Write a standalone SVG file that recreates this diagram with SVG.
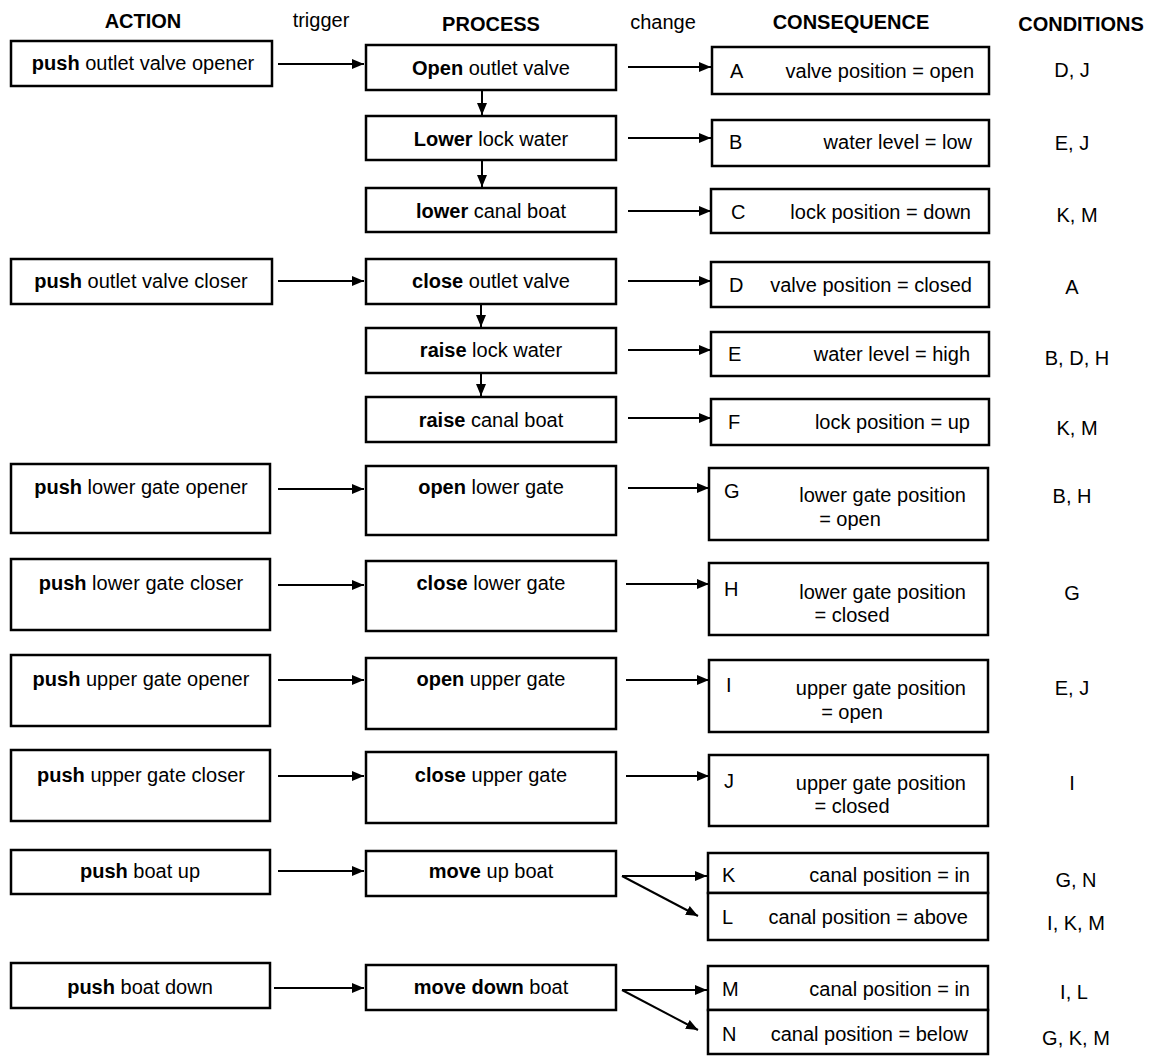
<svg xmlns="http://www.w3.org/2000/svg" width="1153" height="1056" viewBox="0 0 1153 1056">
<style>
.box{fill:#fff;stroke:#000;stroke-width:2.5}
text{font-family:"Liberation Sans",Arial,Helvetica,sans-serif;font-size:20px;fill:#000}
.b{font-weight:bold}
.c{text-anchor:middle}
.r{text-anchor:end}
.conn line{stroke:#000;stroke-width:2;marker-end:url(#ah)}
</style>
<defs>
<marker id="ah" markerUnits="userSpaceOnUse" markerWidth="12" markerHeight="10" refX="12" refY="5" orient="auto">
<path d="M0,0 L12,5 L0,10 z" fill="#000"/>
</marker>
</defs>
<rect width="1153" height="1056" fill="#fff"/>
<g id="headers">
<text x="143" y="28" class="b c">ACTION</text>
<text x="321" y="27" class="c">trigger</text>
<text x="491" y="31" class="b c">PROCESS</text>
<text x="663" y="29" class="c">change</text>
<text x="851" y="29" class="b c">CONSEQUENCE</text>
<text x="1081" y="31" class="b c">CONDITIONS</text>
</g>
<g id="connectors" class="conn">
<line x1="278" y1="64" x2="364" y2="64"/>
<line x1="628" y1="67" x2="711" y2="67"/>
<line x1="482" y1="91" x2="482" y2="115"/>
<line x1="628" y1="138" x2="711" y2="138"/>
<line x1="482" y1="161" x2="482" y2="187"/>
<line x1="628" y1="211" x2="711" y2="211"/>
<line x1="278" y1="281" x2="364" y2="281"/>
<line x1="628" y1="281" x2="711" y2="281"/>
<line x1="481" y1="305" x2="481" y2="327"/>
<line x1="628" y1="350" x2="711" y2="350"/>
<line x1="481" y1="374" x2="481" y2="396"/>
<line x1="628" y1="418" x2="711" y2="418"/>
<line x1="278" y1="489" x2="364" y2="489"/>
<line x1="628" y1="488" x2="709" y2="488"/>
<line x1="278" y1="585" x2="364" y2="585"/>
<line x1="626" y1="584" x2="709" y2="584"/>
<line x1="278" y1="680" x2="364" y2="680"/>
<line x1="626" y1="680" x2="709" y2="680"/>
<line x1="278" y1="776" x2="364" y2="776"/>
<line x1="626" y1="776" x2="709" y2="776"/>
<line x1="278" y1="871" x2="364" y2="871"/>
<line x1="622" y1="876" x2="707" y2="876"/>
<line x1="622" y1="876" x2="698" y2="916"/>
<line x1="274" y1="988" x2="364" y2="988"/>
<line x1="622" y1="990" x2="707" y2="990"/>
<line x1="622" y1="990" x2="698" y2="1030"/>
</g>
<g id="action-1"><rect class="box" x="11" y="41" width="261" height="45"/><text x="143" y="70" class="c"><tspan class="b">push</tspan> outlet valve opener</text></g>
<g id="action-2"><rect class="box" x="11" y="259" width="261" height="45"/><text x="141" y="288" class="c"><tspan class="b">push</tspan> outlet valve closer</text></g>
<g id="action-3"><rect class="box" x="11" y="464" width="259" height="69"/><text x="141" y="494" class="c"><tspan class="b">push</tspan> lower gate opener</text></g>
<g id="action-4"><rect class="box" x="11" y="559" width="259" height="71"/><text x="141" y="590" class="c"><tspan class="b">push</tspan> lower gate closer</text></g>
<g id="action-5"><rect class="box" x="11" y="655" width="259" height="71"/><text x="141" y="686" class="c"><tspan class="b">push</tspan> upper gate opener</text></g>
<g id="action-6"><rect class="box" x="11" y="750" width="259" height="71"/><text x="141" y="782" class="c"><tspan class="b">push</tspan> upper gate closer</text></g>
<g id="action-7"><rect class="box" x="11" y="850" width="259" height="44"/><text x="140" y="878" class="c"><tspan class="b">push</tspan> boat up</text></g>
<g id="action-8"><rect class="box" x="11" y="963" width="259" height="45"/><text x="140" y="994" class="c"><tspan class="b">push</tspan> boat down</text></g>
<g id="process-1"><rect class="box" x="366" y="45" width="250" height="45"/><text x="491" y="75" class="c"><tspan class="b">Open</tspan> outlet valve</text></g>
<g id="process-2"><rect class="box" x="366" y="116" width="250" height="44"/><text x="491" y="146" class="c"><tspan class="b">Lower</tspan> lock water</text></g>
<g id="process-3"><rect class="box" x="366" y="188" width="250" height="44"/><text x="491" y="218" class="c"><tspan class="b">lower</tspan> canal boat</text></g>
<g id="process-4"><rect class="box" x="366" y="259" width="250" height="45"/><text x="491" y="288" class="c"><tspan class="b">close</tspan> outlet valve</text></g>
<g id="process-5"><rect class="box" x="366" y="328" width="250" height="45"/><text x="491" y="357" class="c"><tspan class="b">raise</tspan> lock water</text></g>
<g id="process-6"><rect class="box" x="366" y="397" width="250" height="45"/><text x="491" y="427" class="c"><tspan class="b">raise</tspan> canal boat</text></g>
<g id="process-7"><rect class="box" x="366" y="466" width="250" height="69"/><text x="491" y="494" class="c"><tspan class="b">open</tspan> lower gate</text></g>
<g id="process-8"><rect class="box" x="366" y="561" width="250" height="70"/><text x="491" y="590" class="c"><tspan class="b">close</tspan> lower gate</text></g>
<g id="process-9"><rect class="box" x="366" y="658" width="250" height="71"/><text x="491" y="686" class="c"><tspan class="b">open</tspan> upper gate</text></g>
<g id="process-10"><rect class="box" x="366" y="752" width="250" height="71"/><text x="491" y="782" class="c"><tspan class="b">close</tspan> upper gate</text></g>
<g id="process-11"><rect class="box" x="366" y="851" width="250" height="45"/><text x="491" y="878" class="c"><tspan class="b">move</tspan> up boat</text></g>
<g id="process-12"><rect class="box" x="366" y="965" width="250" height="45"/><text x="491" y="994" class="c"><tspan class="b">move down</tspan> boat</text></g>
<g id="cons-A"><rect class="box" x="712" y="47" width="277" height="47"/><text x="730" y="78">A</text><text x="974" y="78" class="r">valve position = open</text></g>
<g id="cons-B"><rect class="box" x="712" y="120" width="277" height="46"/><text x="729" y="149">B</text><text x="972" y="149" class="r">water level = low</text></g>
<g id="cons-C"><rect class="box" x="711" y="189" width="278" height="44"/><text x="731" y="219">C</text><text x="971" y="219" class="r">lock position = down</text></g>
<g id="cons-D"><rect class="box" x="711" y="262" width="278" height="45"/><text x="729" y="292">D</text><text x="972" y="292" class="r">valve position = closed</text></g>
<g id="cons-E"><rect class="box" x="711" y="332" width="278" height="44"/><text x="728" y="361">E</text><text x="970" y="361" class="r">water level = high</text></g>
<g id="cons-F"><rect class="box" x="711" y="399" width="278" height="46"/><text x="728" y="429">F</text><text x="970" y="429" class="r">lock position = up</text></g>
<g id="cons-G"><rect class="box" x="709" y="468" width="279" height="72"/><text x="724" y="498">G</text><text x="966" y="502" class="r">lower gate position</text><text x="850" y="526" class="c">= open</text></g>
<g id="cons-H"><rect class="box" x="709" y="563" width="279" height="72"/><text x="724" y="596">H</text><text x="966" y="599" class="r">lower gate position</text><text x="852" y="622" class="c">= closed</text></g>
<g id="cons-I"><rect class="box" x="709" y="660" width="279" height="72"/><text x="726" y="692">I</text><text x="966" y="695" class="r">upper gate position</text><text x="852" y="719" class="c">= open</text></g>
<g id="cons-J"><rect class="box" x="709" y="755" width="279" height="71"/><text x="724" y="788">J</text><text x="966" y="790" class="r">upper gate position</text><text x="852" y="813" class="c">= closed</text></g>
<g id="cons-K"><rect class="box" x="708" y="853" width="280" height="40"/><text x="722" y="882">K</text><text x="970" y="882" class="r">canal position = in</text></g>
<g id="cons-L"><rect class="box" x="708" y="893" width="280" height="47"/><text x="722" y="924">L</text><text x="968" y="924" class="r">canal position = above</text></g>
<g id="cons-M"><rect class="box" x="708" y="966" width="280" height="44"/><text x="722" y="996">M</text><text x="970" y="996" class="r">canal position = in</text></g>
<g id="cons-N"><rect class="box" x="708" y="1010" width="280" height="44"/><text x="722" y="1041">N</text><text x="968" y="1041" class="r">canal position = below</text></g>
<g id="conditions">
<text x="1072" y="77" class="c">D, J</text>
<text x="1072" y="150" class="c">E, J</text>
<text x="1077" y="222" class="c">K, M</text>
<text x="1072" y="294" class="c">A</text>
<text x="1077" y="365" class="c">B, D, H</text>
<text x="1077" y="435" class="c">K, M</text>
<text x="1072" y="503" class="c">B, H</text>
<text x="1072" y="600" class="c">G</text>
<text x="1072" y="695" class="c">E, J</text>
<text x="1072" y="790" class="c">I</text>
<text x="1076" y="887" class="c">G, N</text>
<text x="1076" y="930" class="c">I, K, M</text>
<text x="1074" y="999" class="c">I, L</text>
<text x="1076" y="1045" class="c">G, K, M</text>
</g>
</svg>
